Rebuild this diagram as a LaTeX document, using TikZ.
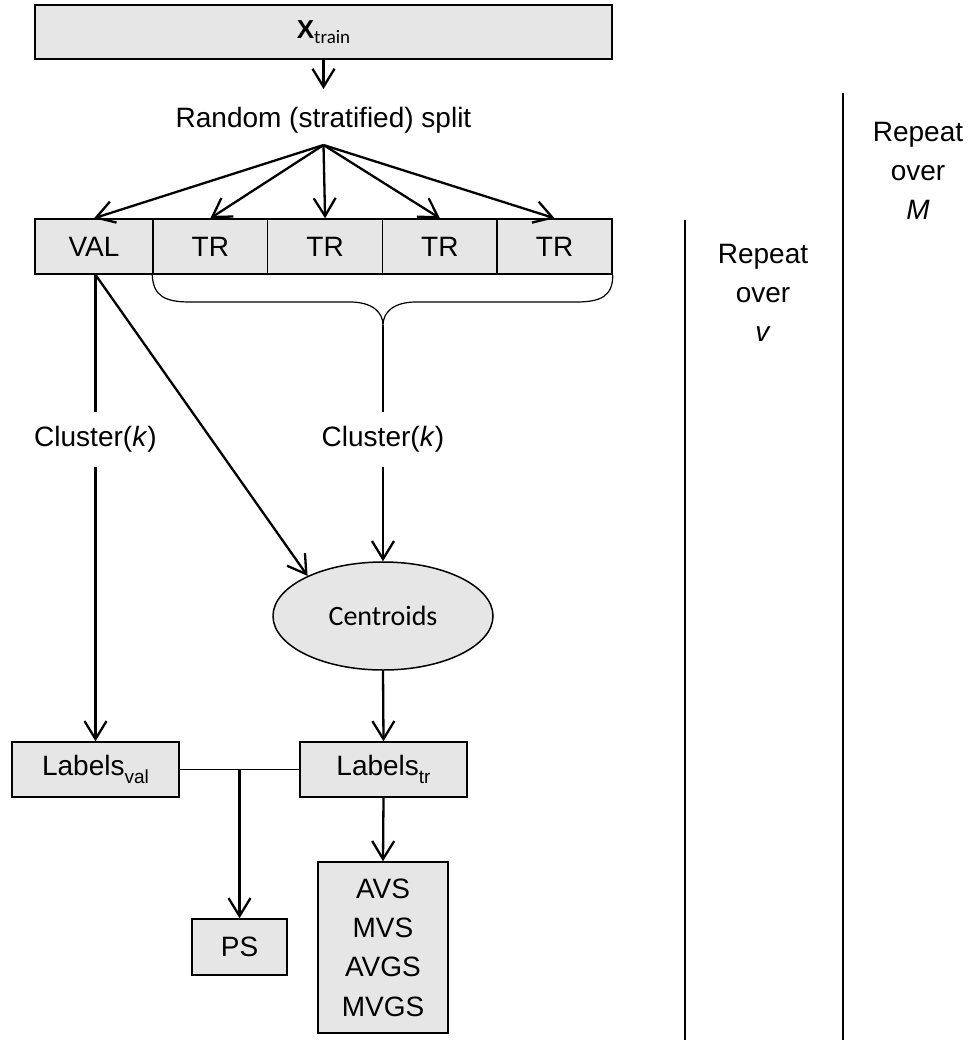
\documentclass[tikz,border=0pt]{standalone}
\usepackage{fontspec}
\setmainfont{Liberation Sans}
\newfontfamily\calib{Carlito}
\usetikzlibrary{arrows.meta,shapes.geometric}
\definecolor{boxgray}{RGB}{230,230,230}
\newcommand{\bigtxt}{\fontsize{28}{34}\selectfont}
\newcommand{\subtxt}{\fontsize{19}{20}\selectfont}
\begin{document}
\begin{tikzpicture}[x=1pt,y=-1pt,
  box/.style={draw, line width=1.5pt, fill=boxgray, inner sep=0pt, font=\bigtxt},
  plain/.style={inner sep=0pt, font=\bigtxt},
  arr/.style={line width=2.3pt, -{Straight Barb[length=18pt,width=22pt,line width=2.3pt]}},
  conn/.style={line width=2.3pt},
  thinline/.style={line width=1.2pt}]
\useasboundingbox (0,0) rectangle (974,1047);

% top box
\node[box, minimum width=577, minimum height=54] (xtrain) at (323.5,32)
  {\fontsize{26}{28}\selectfont\textbf{X}\raisebox{-5pt}{\calib\subtxt train}};
\coordinate (splitin) at (323.5,89);
\draw[arr] (xtrain.south) -- (splitin);
\node[plain] (split) at (323.5,120) {Random (stratified) split};
\coordinate (fan) at (323.5,145);

% row of folds
\node[box, minimum width=118, minimum height=55] (val) at (94,246.5) {VAL};
\node[box, minimum width=114.75, minimum height=55] (tr1) at (210.4,246.5) {TR};
\node[box, minimum width=114.75, minimum height=55] (tr2) at (325.1,246.5) {TR};
\node[box, minimum width=114.75, minimum height=55] (tr3) at (439.9,246.5) {TR};
\node[box, minimum width=114.75, minimum height=55] (tr4) at (554.6,246.5) {TR};

\foreach \t in {val,tr1,tr2,tr3,tr4}{\draw[arr] (fan) -- (\t.north);}

% brace under TR boxes
\coordinate (bracetip) at (383,325);
\draw[thinline] (tr1.south west) .. controls (153,296) and (165,302) .. (190,302)
  -- (350,302) .. controls (372,302) and (383,312) .. (bracetip)
  .. controls (383,312) and (394,302) .. (416,302) -- (576,302)
  .. controls (601,302) and (613,296) .. (tr4.south east);

% lower nodes
\node[ellipse, draw, line width=1.5pt, fill=boxgray, inner sep=0pt,
  minimum width=220, minimum height=108, font={\calib\bigtxt}] (cent) at (383,616) {Centroids};
\node[box, minimum width=167, minimum height=55] (lbval) at (95.5,769.5)
  {Labels\raisebox{-8pt}{\subtxt val}};
\node[box, minimum width=167, minimum height=55] (lbtr) at (383.5,769.5)
  {Labels\raisebox{-8pt}{\subtxt tr}};
\node[box, minimum width=95, minimum height=56] (ps) at (239.5,947) {PS};
\node[box, minimum width=130, minimum height=171, align=center,
  font=\fontsize{28}{39.4}\selectfont] (met) at (383,947.5) {AVS\\MVS\\AVGS\\MVGS};

% cluster labels
\node[plain, minimum height=55] (clL) at (95.5,439.5) {Cluster(\textit{k})};
\node[plain, minimum height=55] (clR) at (383,439.5) {Cluster(\textit{k})};

\coordinate (valout) at (val.south -| lbval.north);
\draw[conn] (valout) -- (clL.north);
\draw[arr] (clL.south) -- (lbval.north);
\draw[arr] (valout) -- (cent.152);
\draw[conn] (bracetip) -- (clR.north);
\draw[arr] (clR.south) -- (cent.north);
\draw[arr] (cent.south) -- (lbtr.north);
\draw[arr] (lbtr.south) -- (met.north);

\coordinate (junc) at (lbval.east -| ps.north);
\draw[thinline] (lbval.east) -- (lbtr.west);
\draw[arr] (junc) -- (ps.north);

% repeat brackets
\draw[thinline] (685,220) -- (685,1040);
\draw[thinline] (843,93) -- (843,1040);
\node[plain, align=center, font=\fontsize{28}{39}\selectfont] (repv) at (763,293)
  {Repeat\\over\\\textit{v}};
\node[plain, align=center, font=\fontsize{28}{39}\selectfont] (repm) at (918,171)
  {Repeat\\over\\\textit{M}};
\end{tikzpicture}
\end{document}
